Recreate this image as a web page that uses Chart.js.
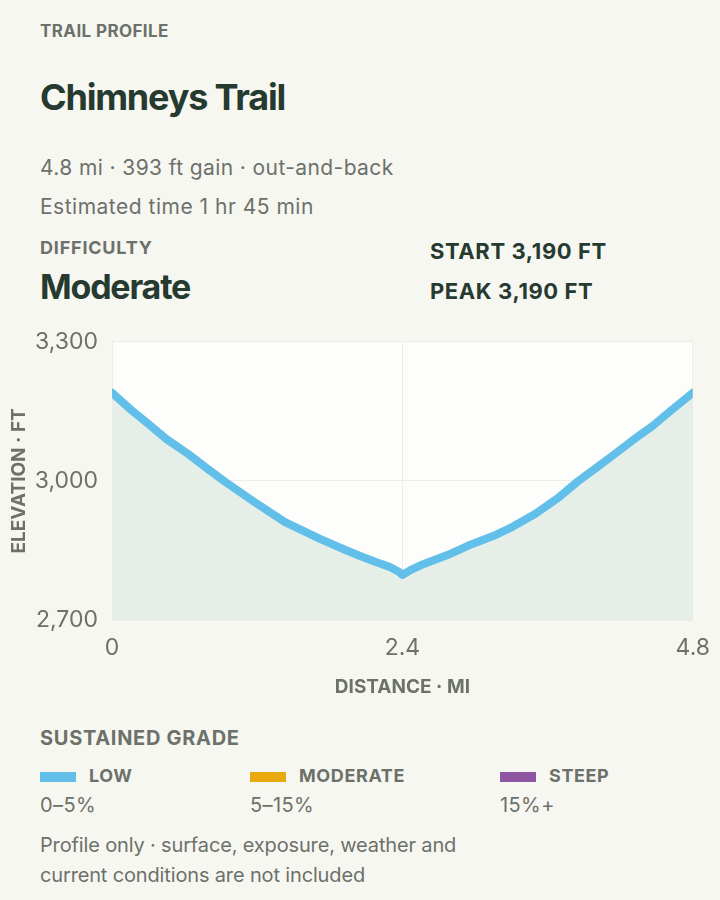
<!DOCTYPE html>
<html>
<head>
<meta charset="utf-8">
<script src="https://cdn.jsdelivr.net/npm/chart.js@4.4.1/dist/chart.umd.min.js"></script>
<style>
  html, body { margin:0; padding:0; }
  body { width:720px; height:900px; background:#f7f7f2; font-family:Inter, "Noto Sans", sans-serif; position:relative; overflow:hidden; }
  .t { position:absolute; white-space:nowrap; height:30px; line-height:30px; }
  .gray { color:#6c716a; }
  .dark { color:#263a30; }
  .b { font-weight:700; }
  #wrap { position:absolute; left:0; top:314px; width:724px; height:396px; }
  .sw { position:absolute; width:36px; height:10px; }
</style>
</head>
<body>
<div class="t gray b" style="left:40px; top:16px; font-size:17px; letter-spacing:0.4px;">TRAIL PROFILE</div>
<div class="t dark b" style="left:40px; top:82px; font-size:36px; letter-spacing:-1.2px;">Chimneys Trail</div>
<div class="t gray" style="left:40px; top:153px; font-size:21px; letter-spacing:0.4px;">4.8 mi · 393 ft gain · out-and-back</div>
<div class="t gray" style="left:40px; top:192px; font-size:21px; letter-spacing:0.5px;">Estimated time 1 hr 45 min</div>
<div class="t gray b" style="left:40px; top:233px; font-size:18px; letter-spacing:0.8px;">DIFFICULTY</div>
<div class="t dark b" style="left:40px; top:272px; font-size:34px; letter-spacing:-1.2px;">Moderate</div>
<div class="t dark b" style="left:430px; top:236px; font-size:22px; letter-spacing:0.6px;">START 3,190 FT</div>
<div class="t dark b" style="left:430px; top:276px; font-size:22px; letter-spacing:0.6px;">PEAK 3,190 FT</div>

<div id="wrap"><canvas id="c"></canvas></div>

<div class="t gray b" style="left:40px; top:723px; font-size:20px; letter-spacing:0.7px;">SUSTAINED GRADE</div>
<div id="legend"></div>
<div class="t gray" style="left:40px; top:830px; font-size:20px; letter-spacing:-0.15px;">Profile only · surface, exposure, weather and</div>
<div class="t gray" style="left:40px; top:860px; font-size:20px; letter-spacing:-0.15px;">current conditions are not included</div>

<script>
// ---- data ----
const distanceMi = [0, 0.15, 0.30, 0.45, 0.63, 0.80, 0.94, 1.18, 1.43, 1.71, 1.93, 2.05, 2.18, 2.30, 2.37, 2.40, 2.47, 2.55, 2.62, 2.80, 2.95, 3.15, 3.31, 3.50, 3.70, 3.86, 4.00, 4.14, 4.30, 4.47, 4.63, 4.80];
const elevationFt = [3190, 3155, 3123, 3090, 3058, 3024, 2997, 2954, 2911, 2876, 2851, 2838, 2825, 2814, 2804, 2797, 2808, 2818, 2825, 2843, 2861, 2881, 2901, 2929, 2966, 3001, 3028, 3055, 3087, 3119, 3154, 3190];
const xTicks = [0, 2.4, 4.8];
const yTicks = [2700, 3000, 3300];
const gradeLabels = ["LOW", "MODERATE", "STEEP"];
const gradeRanges = ["0–5%", "5–15%", "15%+"];
const gradeColors = ["#62bfea", "#e8aa0e", "#8e56a0"];

// ---- legend ----
const legend = document.getElementById('legend');
const colX = [40, 250, 500];
gradeLabels.forEach((lab, i) => {
  const sw = document.createElement('div');
  sw.className = 'sw';
  sw.style.left = colX[i] + 'px';
  sw.style.top = '772px';
  sw.style.background = gradeColors[i];
  legend.appendChild(sw);
  const l = document.createElement('div');
  l.className = 't gray b';
  l.style.left = (colX[i] + 49) + 'px';
  l.style.top = '761px';
  l.style.fontSize = '18px';
  l.style.letterSpacing = '0.6px';
  l.textContent = lab;
  legend.appendChild(l);
  const r = document.createElement('div');
  r.className = 't gray';
  r.style.left = colX[i] + 'px';
  r.style.top = '790px';
  r.style.fontSize = '20px';
  r.style.letterSpacing = '0.4px';
  r.textContent = gradeRanges[i];
  legend.appendChild(r);
});

// ---- chart ----
const points = distanceMi.map((d, i) => ({x: d, y: elevationFt[i]}));
const bgPlugin = {
  id: 'bg',
  beforeDraw(chart) {
    const {ctx, chartArea: a} = chart;
    ctx.save();
    ctx.fillStyle = '#fdfdfb';
    ctx.fillRect(a.left, a.top, a.right - a.left, a.bottom - a.top);
    ctx.restore();
  }
};
new Chart(document.getElementById('c'), {
  type: 'line',
  data: {
    datasets: [{
      data: points,
      borderColor: gradeColors[0],
      borderWidth: 8,
      borderCapStyle: 'round',
      borderJoinStyle: 'round',
      pointRadius: 0,
      tension: 0,
      fill: 'start',
      backgroundColor: '#e6eee8'
    }]
  },
  options: {
    responsive: true,
    maintainAspectRatio: false,
    animation: false,
    events: [],
    layout: { padding: { top: 4, right: 28, left: 0, bottom: 7.6 } },
    plugins: { legend: { display: false }, tooltip: { enabled: false } },
    scales: {
      x: {
        type: 'linear', min: 0, max: 4.8,
        afterBuildTicks(s) { s.ticks = xTicks.map(v => ({value: v})); },
        ticks: { color: '#6c716a', font: { family: 'Inter', size: 23 }, padding: 14, maxRotation: 0,
          callback: v => String(v) },
        grid: { color: '#ecece8', drawTicks: false },
        border: { display: false },
        title: { display: true, text: 'DISTANCE · MI', color: '#6c716a',
          font: { family: 'Inter', size: 19, weight: '700' }, padding: { top: 0, bottom: 4 } }
      },
      y: {
        min: 2700, max: 3300,
        afterBuildTicks(s) { s.ticks = yTicks.map(v => ({value: v})); },
        afterFit(s) { s.width = 112; },
        ticks: { color: '#6c716a', font: { family: 'Inter', size: 23 }, padding: 14 },
        grid: { color: '#ecece8', drawTicks: false },
        border: { display: false },
        title: { display: true, text: 'ELEVATION · FT', color: '#6c716a',
          font: { family: 'Inter', size: 19, weight: '700' }, padding: { top: 8, bottom: 10 } }
      }
    }
  },
  plugins: [bgPlugin]
});
</script>
</body>
</html>
